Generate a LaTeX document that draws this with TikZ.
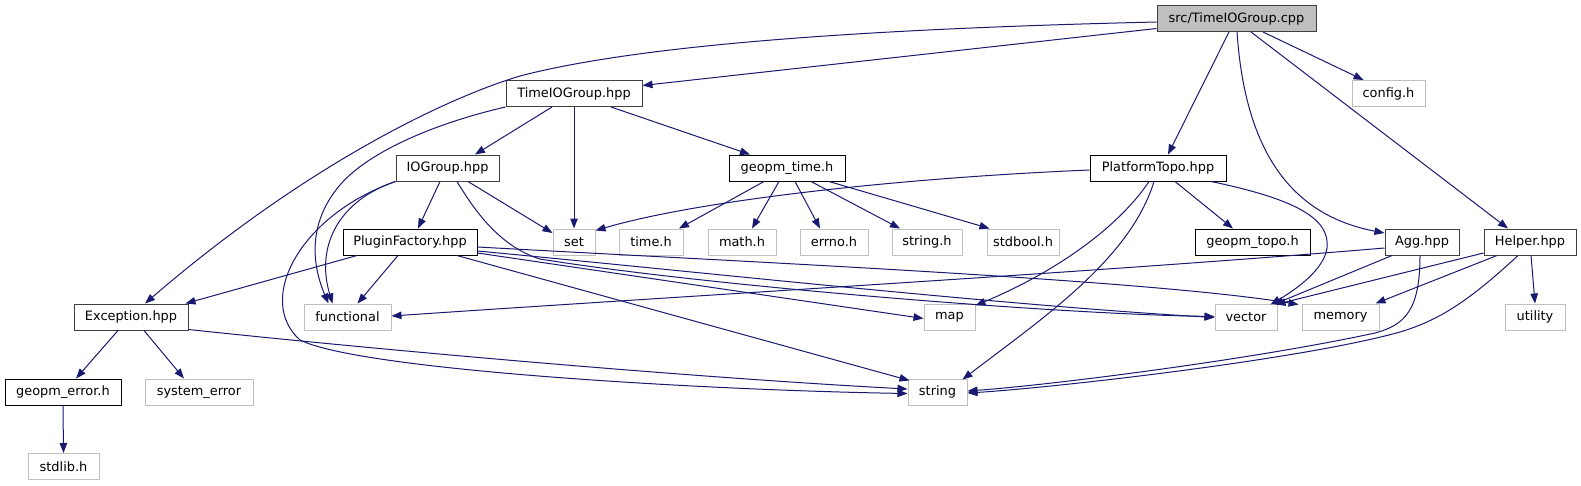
\documentclass[tikz,border=0pt]{standalone}
\usepackage{fontspec}
\setmainfont{DejaVu Sans}
\usetikzlibrary{arrows.meta}
\definecolor{edgeblue}{HTML}{191970}
\definecolor{grayA}{HTML}{404040}
\definecolor{grayB}{HTML}{BFBFBF}
\begin{document}
\begin{tikzpicture}[x=1pt,y=-1pt,font=\fontsize{12.9}{15}\selectfont,
  box/.style={line width=1pt, fill=white, minimum height=26pt, inner sep=0pt, anchor=center},
  dark/.style={box, draw=grayA},
  blk/.style={box, draw=black},
  ext/.style={box, draw=grayB},
  edge/.style={draw=edgeblue, line width=1pt, -{Triangle[length=10pt,width=7.5pt]}}]
\useasboundingbox (0,0) rectangle (1581,485);
% nodes
\node[dark, fill=grayB, minimum width=159pt] (cpp) at (1236.5,18.5) {src/TimeIOGroup.cpp};
\node[dark, minimum width=136pt] (tio) at (574,93.5) {TimeIOGroup.hpp};
\node[ext, minimum width=73pt] (cfg) at (1388.5,93.5) {config.h};
\node[dark, minimum width=103pt] (iog) at (447.5,168) {IOGroup.hpp};
\node[blk, minimum width=116pt] (gt) at (787,168) {geopm\_time.h};
\node[blk, minimum width=136pt] (pt) at (1158,168) {PlatformTopo.hpp};
\node[blk, minimum width=134pt] (pf) at (410,242) {PluginFactory.hpp};
\node[ext, minimum width=42pt] (set) at (574,242) {set};
\node[ext, minimum width=64pt] (timeh) at (651,242) {time.h};
\node[ext, minimum width=68pt] (mathh) at (742,242) {math.h};
\node[ext, minimum width=68pt] (errnoh) at (834,242) {errno.h};
\node[ext, minimum width=70pt] (stringh) at (927,242) {string.h};
\node[ext, minimum width=72pt] (stdboolh) at (1023,242) {stdbool.h};
\node[blk, minimum width=115pt] (gtopo) at (1252.5,242) {geopm\_topo.h};
\node[dark, minimum width=74pt] (agg) at (1422,242) {Agg.hpp};
\node[dark, minimum width=92pt] (helper) at (1530,242) {Helper.hpp};
\node[dark, minimum width=114pt] (exc) at (131,317) {Exception.hpp};
\node[ext, minimum width=87pt] (func) at (347.5,317) {functional};
\node[ext, minimum width=51pt] (map) at (949.5,317) {map};
\node[ext, minimum width=62pt] (vector) at (1246,317) {vector};
\node[ext, minimum width=77pt] (memory) at (1340.5,317) {memory};
\node[ext, minimum width=60pt] (utility) at (1535,317) {utility};
\node[blk, minimum width=116pt] (gerr) at (63,392) {geopm\_error.h};
\node[ext, minimum width=108pt] (syserr) at (199,392) {system\_error};
\node[ext, minimum width=59pt] (str) at (937.5,392) {string};
\node[ext, minimum width=71pt] (stdlib) at (63.5,466.5) {stdlib.h};
% edges from cpp
\draw[edge] ([yshift=-3.5pt]cpp.west) .. controls (900,28) and (650,42) .. (520,76) .. controls (440,100) and (300,170) .. ([xshift=14pt]exc.north);
\draw[edge] ([yshift=-10pt]cpp.west) -- ([yshift=8pt]tio.east);
\draw[edge] ([xshift=-7.5pt]cpp.south) -- ([xshift=10pt]pt.north);
\draw[edge] ([xshift=0.5pt]cpp.south) .. controls (1245,150) and (1290,215) .. ([yshift=9pt]agg.west);
\draw[edge] ([xshift=14.5pt]cpp.south) -- ([xshift=-22pt]helper.north);
\draw[edge] ([xshift=26.5pt]cpp.south) -- ([xshift=-25pt]cfg.north);
% TimeIOGroup.hpp
\draw[edge] ([xshift=-22pt]tio.south) -- ([xshift=27.5pt]iog.north);
\draw[edge] (tio.south) -- (set.north);
\draw[edge] ([xshift=37pt]tio.south) -- ([xshift=-37pt]gt.north);
\draw[edge] (tio.south west) .. controls (440,122) and (370,150) .. (340,185) .. controls (310,220) and (310,260) .. ([xshift=-19pt]func.north);
% IOGroup.hpp
\draw[edge] ([xshift=-7.5pt]iog.south) -- ([xshift=8pt]pf.north);
\draw[edge] ([xshift=20.5pt]iog.south) -- ([yshift=9pt]set.west);
\draw[edge] (iog.south west) .. controls (340,200) and (315,245) .. ([xshift=-15pt]func.north);
\draw[edge] (iog.south west) .. controls (300,215) and (255,300) .. (300,340) .. controls (360,370) and (700,390) .. ([yshift=-1.5pt]str.west);
\draw[edge] ([xshift=9.5pt]iog.south) .. controls (480,220) and (505,248) .. (540,259) .. controls (700,285) and (1050,314) .. ([yshift=0.5pt]vector.west);
% PluginFactory.hpp
\draw[edge] ([yshift=-9pt]pf.east) .. controls (700,272) and (1000,305) .. ([yshift=-0.5pt]vector.west);
\draw[edge] ([yshift=-5pt]pf.east) .. controls (750,262) and (1150,280) .. ([xshift=-3pt,yshift=-1pt]memory.north west);
\draw[edge] ([yshift=-11pt]pf.east) -- ([yshift=-1.5pt]map.west);
\draw[edge] ([xshift=47pt]pf.south) -- ([xshift=2pt,yshift=-2pt]str.north west);
\draw[edge] ([xshift=-53pt]pf.south) -- ([xshift=-3pt]exc.north east);
\draw[edge] ([xshift=-12pt]pf.south) -- ([xshift=10pt]func.north);
% Exception.hpp
\draw[edge] ([xshift=-13pt]exc.south) -- ([xshift=13pt]gerr.north);
\draw[edge] ([xshift=13pt]exc.south) -- ([xshift=-15pt]syserr.north);
\draw[edge] ([yshift=-12.5pt]exc.east) .. controls (400,352) and (700,378) .. ([yshift=3pt]str.west);
\draw[edge] (gerr.south) -- (stdlib.north);
% geopm_time.h
\draw[edge] ([xshift=-23pt]gt.south) -- ([xshift=28pt]timeh.north);
\draw[edge] ([xshift=-8pt]gt.south) -- ([xshift=10pt]mathh.north);
\draw[edge] ([xshift=8pt]gt.south) -- ([xshift=-14pt]errnoh.north);
\draw[edge] ([xshift=24pt]gt.south) -- ([xshift=-27pt]stringh.north);
\draw[edge] ([xshift=42pt]gt.south) -- ([xshift=3pt]stdboolh.north west);
% PlatformTopo.hpp
\draw[edge] ([yshift=-2pt]pt.west) .. controls (900,178) and (700,200) .. ([yshift=-2pt]set.north east);
\draw[edge] ([xshift=17pt]pt.south) -- ([xshift=-19.5pt]gtopo.north);
\draw[edge] ([xshift=53pt]pt.south) .. controls (1300,200) and (1330,220) .. (1327,248) .. controls (1324,270) and (1295,290) .. ([xshift=-7pt,yshift=-1pt]vector.north east);
\draw[edge] ([xshift=-9pt]pt.south) .. controls (1120,225) and (1060,270) .. ([yshift=-2pt]map.north east);
\draw[edge] ([xshift=-4pt]pt.south) .. controls (1130,260) and (1040,320) .. ([xshift=-5pt,yshift=-1pt]str.north east);
% Agg.hpp
\draw[edge] ([yshift=-6pt]agg.west) .. controls (1100,272) and (700,295) .. ([yshift=1pt]func.east);
\draw[edge] ([xshift=-30pt]agg.south) -- ([xshift=-4pt,yshift=-1pt]vector.north east);
\draw[edge] ([xshift=-2pt]agg.south) .. controls (1420,310) and (1405,325) .. (1375,333) .. controls (1250,360) and (1050,385) .. ([yshift=1pt]str.east);
% Helper.hpp
\draw[edge] ([yshift=-11pt]helper.west) -- ([xshift=-2pt,yshift=-1pt]vector.north east);
\draw[edge] ([xshift=-33pt]helper.south) -- ([xshift=-4pt]memory.north east);
\draw[edge] ([xshift=-12pt]helper.south) .. controls (1470,300) and (1440,320) .. (1400,332) .. controls (1300,360) and (1050,388) .. ([yshift=-1pt]str.east);
\draw[edge] ([xshift=1pt]helper.south) -- (utility.north);
\end{tikzpicture}
\end{document}
